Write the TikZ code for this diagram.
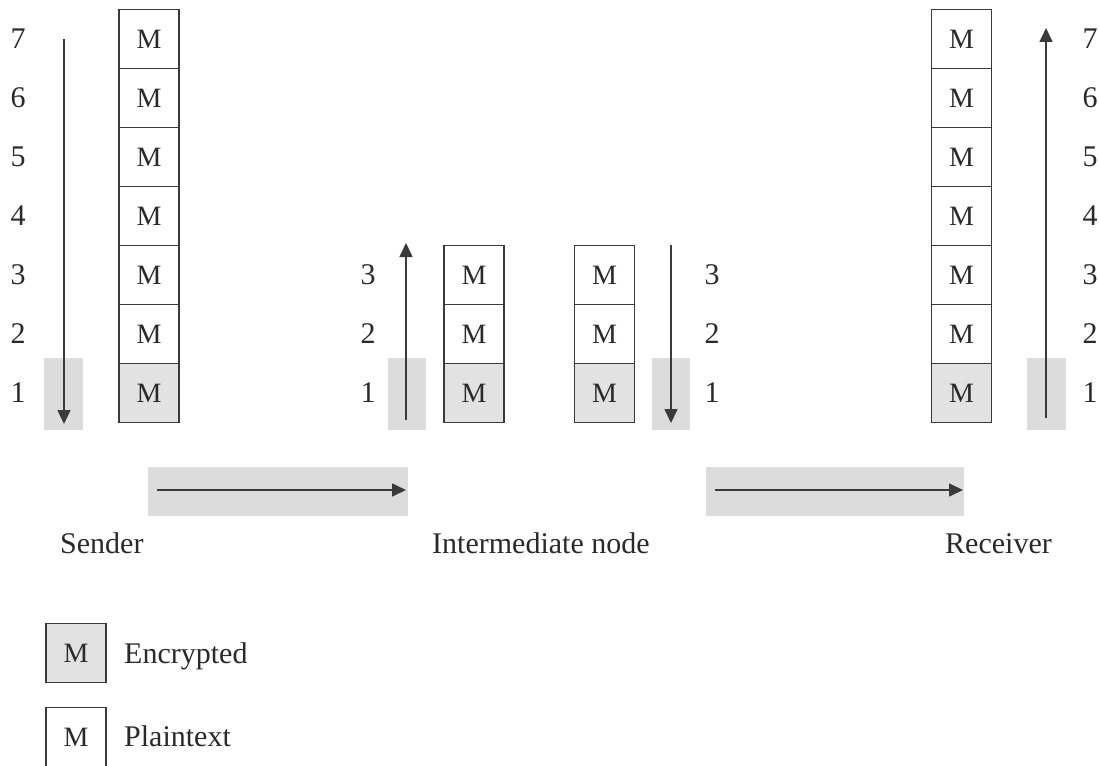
\documentclass[tikz,border=0pt]{standalone}
\usepackage{fontspec}
\setmainfont{Liberation Serif}
\usetikzlibrary{arrows.meta}
\definecolor{shade}{HTML}{DCDCDC}
\definecolor{encr}{HTML}{E2E2E2}
\definecolor{ink}{HTML}{3A3A3A}
\definecolor{txt}{HTML}{2A2A2A}
\tikzset{
  every node/.style={font=\fontsize{30}{36}\selectfont, text=txt},
  pbox/.style={draw=ink, line width=1.6pt, fill=white, minimum width=60pt, minimum height=59pt, inner sep=0pt, font=\fontsize{28}{34}\selectfont},
  ebox/.style={pbox, fill=encr},
  band/.style={fill=shade, draw=none},
  flow/.style={draw=ink, line width=1.6pt, -{Triangle[width=13pt,length=14pt]}},
  num/.style={inner sep=0pt},
  lbl/.style={anchor=base west, inner sep=0pt}
}
\begin{document}
\begin{tikzpicture}[x=1pt,y=-1pt]
\useasboundingbox[fill=white] (0,0) rectangle (1099,765);
\clip (0,0) rectangle (1099,765);
% shaded bands
\fill[band] (44,358) rectangle (83,430);
\fill[band] (388,358) rectangle (426,430);
\fill[band] (652,358) rectangle (690,430);
\fill[band] (1027,358) rectangle (1066,430);
\fill[band] (148,467) rectangle (408,516);
\fill[band] (706,467) rectangle (964,516);
% sender stack
\node[ebox] (s1) at (149,393) {M};
\foreach \k in {2,...,7}{
  \node[pbox] (s\k) at (149,{393-(\k-1)*59}) {M};
  \node[num] (sn\k) at (18,{393-(\k-1)*59}) {\k};
}
\node[num] (sn1) at (18,393) {1};
% receiver stack
\node[ebox] (r1) at (961.5,393) {M};
\foreach \k in {2,...,7}{
  \node[pbox] (r\k) at (961.5,{393-(\k-1)*59}) {M};
  \node[num] (rn\k) at (1090,{393-(\k-1)*59}) {\k};
}
\node[num] (rn1) at (1090,393) {1};
% intermediate stacks
\node[ebox] (a1) at (474,393) {M};
\node[pbox] (a2) at (474,334) {M};
\node[pbox] (a3) at (474,275) {M};
\node[ebox] (b1) at (604.5,393) {M};
\node[pbox] (b2) at (604.5,334) {M};
\node[pbox] (b3) at (604.5,275) {M};
\node[num] (an1) at (368,393) {1};
\node[num] (an2) at (368,334) {2};
\node[num] (an3) at (368,275) {3};
\node[num] (bn1) at (712,393) {1};
\node[num] (bn2) at (712,334) {2};
\node[num] (bn3) at (712,275) {3};
% vertical arrows
\coordinate (sv0) at (64,39);   \coordinate (sv1) at (64,424);
\coordinate (av0) at (406,420); \coordinate (av1) at (406,243);
\coordinate (bv0) at (671,245); \coordinate (bv1) at (671,423);
\coordinate (rv0) at (1046,418); \coordinate (rv1) at (1046,28);
\draw[flow] (sv0) -- (sv1);
\draw[flow] (av0) -- (av1);
\draw[flow] (bv0) -- (bv1);
\draw[flow] (rv0) -- (rv1);
% horizontal arrows
\coordinate (h10) at (157,490); \coordinate (h11) at (406,490);
\coordinate (h20) at (715,490); \coordinate (h21) at (963,490);
\draw[flow] (h10) -- (h11);
\draw[flow] (h20) -- (h21);
% labels
\node[lbl] (snd) at (60,553) {Sender};
\node[lbl] (mid) at (432,553) {Intermediate node};
\node[lbl] (rcv) at (945,553) {Receiver};
% legend
\node[ebox] (le) at (76,653) {M};
\node[lbl] (lel) at (124,663) {Encrypted};
\node[pbox] (lp) at (76,737) {M};
\node[lbl] (lpl) at (124,746) {Plaintext};
\end{tikzpicture}
\end{document}
